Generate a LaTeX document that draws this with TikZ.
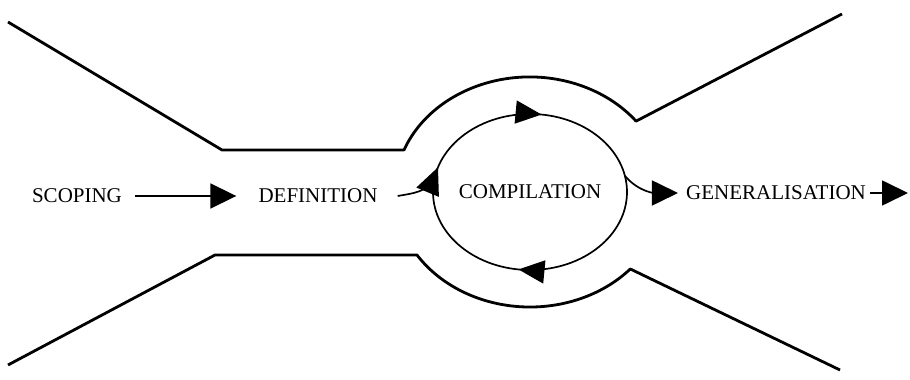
\documentclass[tikz,border=0pt]{standalone}
\usepackage{fontspec}
\setmainfont{Liberation Serif}
\usetikzlibrary{arrows.meta,decorations.markings,calc}
\begin{document}
\begin{tikzpicture}[x=1pt,y=1pt,
  label/.style={inner sep=0pt, font=\fontsize{21}{25}\selectfont},
  wall/.style={line width=2.8pt, line join=round},
  loopline/.style={line width=1.7pt},
  head/.style={-{Triangle[length=26pt,width=25pt]}},
  flow/.style={line width=1.8pt, head}]
\useasboundingbox (0,0) rectangle (910,380);

% stage labels
\node[label] (scop) at (77,184) {SCOPING};
\node[label] (def)  at (318,184) {DEFINITION};
\node[label] (comp) at (530,188) {COMPILATION};
\node[label] (gen)  at (776,187) {GENERALISATION};

% outer funnel walls with the bulge around the compilation loop
\draw[wall] (8,358) -- (222,230) -- (404,230)
  arc[start angle=158.6, end angle=38, x radius=135, y radius=115]
  -- (842,366);
\draw[wall] (8,15) -- (215,125) -- (417,125)
  arc[start angle=213.2, end angle=318, x radius=135, y radius=115]
  -- (840,10);

% compilation loop, running clockwise
\draw[loopline, postaction={decorate}, decoration={markings,
    mark=at position 0.229 with {\arrowreversed{Triangle[length=26pt,width=23pt]}},
    mark=at position 0.454 with {\arrowreversed{Triangle[length=27pt,width=24pt]}},
    mark=at position 0.729 with {\arrowreversed{Triangle[length=26pt,width=23pt]}}}]
  (comp) ellipse[x radius=97, y radius=78];

% entry and exit points on the loop
\coordinate (loopin)  at ($(comp)+(170:97 and 78)$);
\coordinate (loopout) at ($(comp)+(12:97 and 78)$);

% connectors between stages
\draw[flow] (scop.east) ++(13,0) -- ([xshift=-22pt]def.west);
\draw[loopline] ([xshift=20pt]def.east) to[out=10, in=-120] (loopin);
\draw[loopline, head] (loopout) to[out=-50, in=180] ([xshift=-8pt]gen.west);
\draw[loopline, head] ([xshift=4pt]gen.east) -- (908,187);
\end{tikzpicture}
\end{document}
